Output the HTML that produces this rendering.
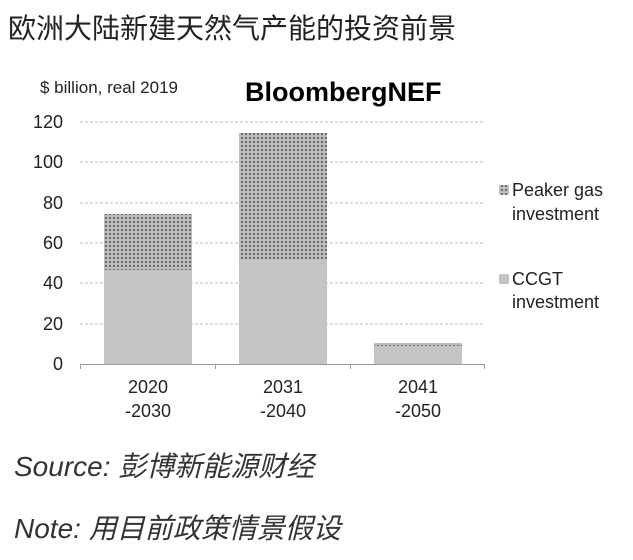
<!DOCTYPE html>
<html><head><meta charset="utf-8"><style>
body{margin:0;width:633px;height:560px;background:#fff;overflow:hidden;font-family:"Liberation Sans","Noto Sans CJK SC",sans-serif;}
.t{position:absolute;white-space:nowrap;}
</style></head><body>
<div class="t" style="left:8px;top:12px;font-size:28px;line-height:34px;color:#222;">欧洲大陆新建天然气产能的投资前景</div>
<svg style="position:absolute;left:0;top:0" width="633" height="560">
<defs><pattern id="d" width="4" height="4" patternUnits="userSpaceOnUse"><rect width="4" height="4" fill="#bdbdbd"/><rect x="1" y="1" width="2" height="2" fill="#6a6a6a"/></pattern></defs>
<g stroke="#bbb" stroke-dasharray="3,2" stroke-width="1">
<line x1="80" x2="485" y1="122" y2="122"/><line x1="80" x2="485" y1="162" y2="162"/><line x1="80" x2="485" y1="203" y2="203"/><line x1="80" x2="485" y1="243" y2="243"/><line x1="80" x2="485" y1="283" y2="283"/><line x1="80" x2="485" y1="324" y2="324"/>
</g>
<rect x="104" y="214" width="88" height="56" fill="url(#d)"/><rect x="104" y="270" width="88" height="94" fill="#c4c4c4"/>
<rect x="239" y="133" width="88" height="126" fill="url(#d)"/><rect x="239" y="259" width="88" height="105" fill="#c4c4c4"/>
<rect x="374" y="343" width="88" height="4" fill="url(#d)"/><rect x="374" y="346" width="88" height="18" fill="#c4c4c4"/>
<g stroke="#999" stroke-width="1"><line x1="80" x2="485" y1="364.5" y2="364.5"/><line x1="80.5" x2="80.5" y1="364" y2="369"/><line x1="215.5" x2="215.5" y1="364" y2="369"/><line x1="350.5" x2="350.5" y1="364" y2="369"/><line x1="484.5" x2="484.5" y1="364" y2="369"/></g>
<g font-family="Liberation Sans, sans-serif" font-size="18" fill="#222" text-anchor="end">
<text x="63" y="128">120</text><text x="63" y="168">100</text><text x="63" y="209">80</text><text x="63" y="249">60</text><text x="63" y="289">40</text><text x="63" y="330">20</text><text x="63" y="370">0</text>
</g>
<g font-family="Liberation Sans, sans-serif" font-size="18" fill="#222" text-anchor="middle">
<text x="148" y="393">2020</text><text x="148" y="417">-2030</text>
<text x="283" y="393">2031</text><text x="283" y="417">-2040</text>
<text x="418" y="393">2041</text><text x="418" y="417">-2050</text>
</g>
<text x="40" y="93" font-family="Liberation Sans, sans-serif" font-size="17" fill="#222">$ billion, real 2019</text>
<text x="245" y="101" font-family="Liberation Sans, sans-serif" font-size="27" font-weight="bold" fill="#000">BloombergNEF</text>
<rect x="499" y="185" width="10" height="10" fill="url(#d)"/>
<rect x="499" y="274" width="10" height="10" fill="#c4c4c4"/>
<g font-family="Liberation Sans, sans-serif" font-size="18" fill="#222">
<text x="512" y="196">Peaker gas</text><text x="512" y="220">investment</text>
<text x="512" y="285">CCGT</text><text x="512" y="308">investment</text>
</g>
</svg>
<div class="t" style="left:14px;top:450px;font-size:28px;line-height:34px;font-style:italic;color:#333;">Source: 彭博新能源财经</div>
<div class="t" style="left:14px;top:512px;font-size:28px;line-height:34px;font-style:italic;color:#333;">Note: 用目前政策情景假设</div>
</body></html>
